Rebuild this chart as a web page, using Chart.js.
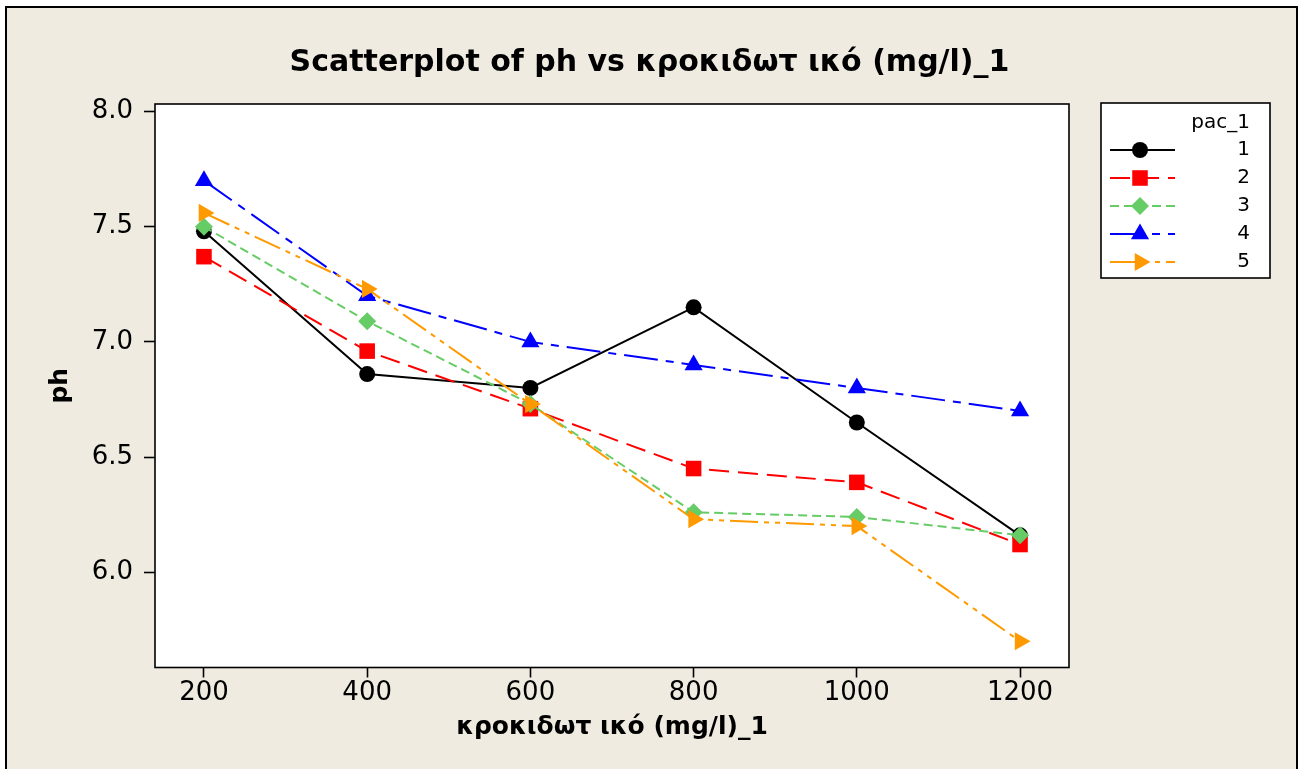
<!DOCTYPE html>
<html>
<head>
<meta charset="utf-8">
<title>Scatterplot of ph</title>
<script src="https://cdn.jsdelivr.net/npm/chart.js@4.4.1/dist/chart.umd.min.js"></script>
<style>
  html, body { margin: 0; padding: 0; background: #ffffff; }
  #wrap { width: 1299px; height: 769px; }
</style>
</head>
<body>
<div id="wrap"><canvas id="grafico" width="1299" height="769"></canvas></div>
<script>
// dose of flocculant (mg/l)
const doses = [200, 400, 600, 800, 1000, 1200];
const xTicks = [200, 400, 600, 800, 1000, 1200];
const yTicks = [6.0, 6.5, 7.0, 7.5, 8.0];

// measured ph, one array per pac_1 level
const ph1 = [7.48, 6.86, 6.80, 7.15, 6.65, 6.16];
const ph2 = [7.37, 6.96, 6.71, 6.45, 6.39, 6.12];
const ph3 = [7.50, 7.09, 6.73, 6.26, 6.24, 6.16];
const ph4 = [7.70, 7.20, 7.00, 6.90, 6.80, 6.70];
const ph5 = [7.56, 7.23, 6.73, 6.23, 6.20, 5.70];
const groups = ["1", "2", "3", "4", "5"];
const phSeries = [ph1, ph2, ph3, ph4, ph5];

const chartTitle = "Scatterplot of ph vs κροκιδωτ ικό (mg/l)_1";
const xTitle = "κροκιδωτ ικό (mg/l)_1";
const yTitle = "ph";
const legendTitle = "pac_1";

// look of each group: colour, marker, dash
const estilos = [
    { color: "#000000", pointStyle: "circle", radius: 8, rotation: 0, dash: [] },
    { color: "#ff0000", pointStyle: "rect", radius: 11, rotation: 0, dash: [20, 9] },
    { color: "#66cc66", pointStyle: "rectRot", radius: 9, rotation: 0, dash: [9, 5] },
    { color: "#0000ff", pointStyle: "triangle", radius: 10.5, rotation: 0, dash: [34, 8, 8, 8] },
    { color: "#ff9900", pointStyle: "triangle", radius: 10.5, rotation: 90, dash: [28, 6, 5, 6, 5, 6] }
];

const FUNDO = "#efebe1";
const fonte = "'DejaVu Sans', Verdana, sans-serif";

const datasets = phSeries.map((serie, i) => ({
    label: groups[i],
    data: doses.map((d, j) => ({ x: d, y: serie[j] })),
    showLine: true,
    borderColor: estilos[i].color,
    backgroundColor: estilos[i].color,
    borderWidth: 2,
    borderDash: estilos[i].dash,
    pointStyle: estilos[i].pointStyle,
    pointRadius: estilos[i].radius,
    pointRotation: estilos[i].rotation,
    pointBorderWidth: 0,
    pointHoverRadius: estilos[i].radius,
    order: groups.length - i, // last group on top
    clip: false
}));

// background, frame, white plot area, title and legend
const moldura = {
    id: "moldura",
    beforeDraw(chart) {
        const ctx = chart.ctx;
        const a = chart.chartArea;
        ctx.save();
        ctx.fillStyle = "#ffffff";
        ctx.fillRect(0, 0, chart.width, chart.height);
        ctx.fillStyle = FUNDO;
        ctx.fillRect(6, 7, 1291, 770);
        ctx.strokeStyle = "#000000";
        ctx.lineWidth = 2;
        ctx.strokeRect(6, 7, 1291, 770);
        ctx.fillStyle = "#ffffff";
        ctx.fillRect(a.left, a.top, a.right - a.left, a.bottom - a.top);
        ctx.restore();
    },
    afterDraw(chart) {
        const ctx = chart.ctx;
        const a = chart.chartArea;
        ctx.save();
        ctx.strokeStyle = "#000000";
        ctx.lineWidth = 1.6;
        ctx.strokeRect(a.left, a.top, a.right - a.left, a.bottom - a.top);

        // title
        ctx.fillStyle = "#000000";
        ctx.font = "bold 30px " + fonte;
        ctx.textAlign = "center";
        ctx.textBaseline = "middle";
        ctx.fillText(chartTitle, chart.width / 2, 63);

        // legend
        const lx = 1101, ly = 103, lw = 169, lh = 175;
        ctx.fillStyle = "#ffffff";
        ctx.fillRect(lx, ly, lw, lh);
        ctx.lineWidth = 1.6;
        ctx.strokeRect(lx, ly, lw, lh);
        ctx.fillStyle = "#000000";
        ctx.font = "20px " + fonte;
        ctx.textAlign = "right";
        ctx.fillText(legendTitle, 1250, 123);
        chart.data.datasets.forEach((ds, i) => {
            const y = 150 + i * 28;
            ctx.save();
            ctx.strokeStyle = ds.borderColor;
            ctx.lineWidth = ds.borderWidth;
            ctx.setLineDash(ds.borderDash);
            ctx.beginPath();
            ctx.moveTo(1110, y);
            ctx.lineTo(1175, y);
            ctx.stroke();
            ctx.restore();
            ctx.save();
            ctx.fillStyle = ds.backgroundColor;
            ctx.strokeStyle = ds.borderColor;
            Chart.helpers.drawPoint(ctx, {
                pointStyle: ds.pointStyle,
                radius: ds.pointRadius,
                rotation: ds.pointRotation,
                borderWidth: 0
            }, 1140, y);
            ctx.restore();
            ctx.fillStyle = "#000000";
            ctx.fillText(ds.label, 1250, y);
        });
        ctx.restore();
    }
};

new Chart(document.getElementById("grafico"), {
    type: "scatter",
    data: { datasets: datasets },
    options: {
        responsive: false,
        animation: false,
        events: [],
        layout: { padding: { left: 0, right: 230, top: 104, bottom: 0 } },
        plugins: {
            legend: { display: false },
            title: { display: false },
            tooltip: { enabled: false }
        },
        scales: {
            x: {
                type: "linear",
                min: 140,
                max: 1260,
                afterFit: (scale) => { scale.height = 101.5; },
                afterBuildTicks: (scale) => { scale.ticks = xTicks.map(v => ({ value: v })); },
                border: { display: false },
                grid: {
                    drawOnChartArea: false,
                    drawTicks: true,
                    tickLength: 10,
                    tickColor: "#000000",
                    tickWidth: 1.6
                },
                ticks: {
                    color: "#000000",
                    font: { family: fonte, size: 26 },
                    padding: 0,
                    maxRotation: 0,
                    callback: (v) => String(v)
                },
                title: {
                    display: true,
                    text: xTitle,
                    color: "#000000",
                    font: { family: fonte, size: 25, weight: "bold" },
                    padding: { top: 0, bottom: 27 }
                }
            },
            y: {
                type: "linear",
                min: 5.586,
                max: 8.033,
                afterFit: (scale) => { scale.width = 155; },
                afterBuildTicks: (scale) => { scale.ticks = yTicks.map(v => ({ value: v })); },
                border: { display: false },
                grid: {
                    drawOnChartArea: false,
                    drawTicks: true,
                    tickLength: 11,
                    tickColor: "#000000",
                    tickWidth: 1.6
                },
                ticks: {
                    color: "#000000",
                    font: { family: fonte, size: 26 },
                    padding: 11,
                    callback: (v) => Number(v).toFixed(1)
                },
                title: {
                    display: true,
                    text: yTitle,
                    color: "#000000",
                    font: { family: fonte, size: 25, weight: "bold" },
                    padding: { top: 45, bottom: 0 }
                }
            }
        }
    },
    plugins: [moldura]
});
</script>
</body>
</html>
